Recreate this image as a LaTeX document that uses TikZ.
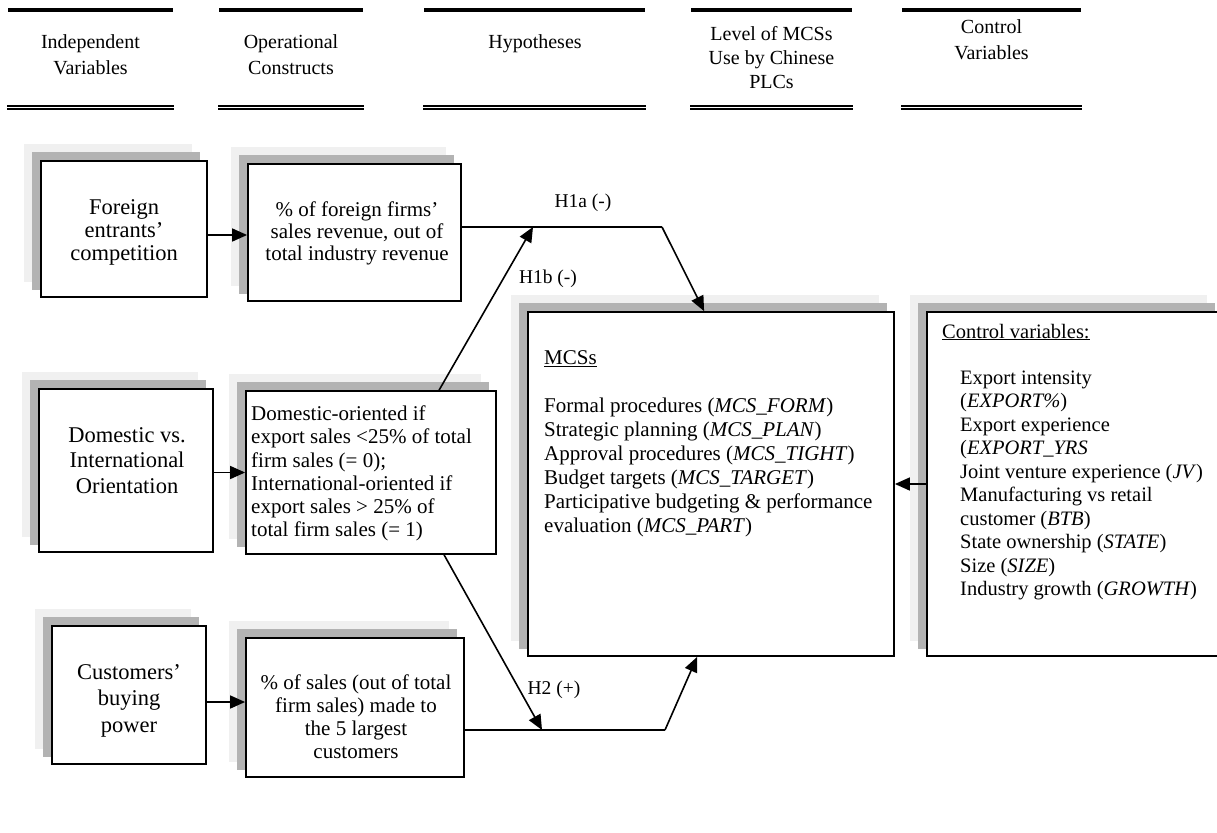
\documentclass[tikz,border=0pt]{standalone}
\usepackage{fontspec}
\setmainfont{Liberation Serif}
\usetikzlibrary{arrows.meta,backgrounds}
\definecolor{shlight}{RGB}{240,240,240}
\definecolor{shdark}{RGB}{179,179,179}
\tikzset{
  box/.style={draw=black, line width=1.8pt, fill=white, inner sep=0pt},
  conn/.style={line width=1.6pt},
  arr/.style={line width=1.6pt, -{Triangle[length=15pt,width=13pt]}},
  hdr/.style={align=center, anchor=north, inner sep=0pt, font=\fontsize{20}{26}\selectfont},
  lefttxt/.style={align=center, anchor=north, inner sep=0pt, font=\fontsize{22.5}{25.5}\selectfont},
  optxt/.style={align=center, anchor=north, inner sep=0pt, font=\fontsize{21}{22}\selectfont},
  listtxt/.style={align=left, anchor=north west, inner sep=0pt, font=\fontsize{21}{24}\selectfont},
  ctrltxt/.style={align=left, anchor=north west, inner sep=0pt, font=\fontsize{20.5}{23.5}\selectfont},
  hlabel/.style={inner sep=0pt, font=\fontsize{19.5}{22}\selectfont},
  rule/.style={line width=4pt},
  thinrule/.style={line width=1.9pt}
}
\newcommand{\shadowbox}[1]{%
  \fill[shlight] ([shift={(-16,-16)}]#1.south west) rectangle ([shift={(-16,-16)}]#1.north east);
  \fill[shdark] ([shift={(-8,-8)}]#1.south west) rectangle ([shift={(-8,-8)}]#1.north east);
}
\begin{document}
\begin{tikzpicture}[x=1pt,y=-1pt]
\useasboundingbox (0,0) rectangle (1217,832);

% header rules
\foreach \a/\b in {8/173, 219/363, 424/645, 691/852, 902/1081} {
  \draw[rule] (\a,10) -- (\b,10);
  \draw[thinrule] (\a-1,105.9) -- (\b+1,105.9);
  \draw[thinrule] (\a-1,109.4) -- (\b+1,109.4);
}

% header texts
\node[hdr] (h1) at (90.5,34) {Independent\\Variables};
\node[hdr] (h2) at (291,34) {Operational\\Constructs};
\node[hdr] (h3) at (535,34) {Hypotheses};
\node[hdr, font=\fontsize{20}{24}\selectfont] (h4) at (771.5,26) {Level of MCSs\\Use by Chinese\\PLCs};
\node[hdr, font=\fontsize{20}{26}\selectfont] (h5) at (991.5,19) {Control\\Variables};

% boxes
\node[box, minimum width=166pt, minimum height=136pt] (foreign) at (124,229) {};
\node[box, minimum width=213pt, minimum height=137pt] (op1) at (354.5,232.5) {};
\node[box, minimum width=174pt, minimum height=163pt] (dom) at (126,470.5) {};
\node[box, minimum width=250pt, minimum height=163pt] (op2) at (371,472.5) {};
\node[box, minimum width=154pt, minimum height=138pt] (cust) at (129,695) {};
\node[box, minimum width=218pt, minimum height=139pt] (op3) at (355,707.5) {};
\node[box, minimum width=366pt, minimum height=344pt] (mcs) at (711,484) {};
\node[box, minimum width=295pt, minimum height=344pt] (ctrl) at (1074.5,484) {};

\begin{pgfonlayer}{background}
  \shadowbox{foreign}
  \shadowbox{op1}
  \shadowbox{dom}
  \shadowbox{op2}
  \shadowbox{cust}
  \shadowbox{op3}
  \shadowbox{mcs}
  \shadowbox{ctrl}
\end{pgfonlayer}

% box texts
\node[lefttxt, font=\fontsize{22.5}{23}\selectfont] (foreign-t) at (124,199) {Foreign\\entrants'\\competition};
\node[optxt] (op1-t) at (357,201.5) {\% of foreign firms'\\sales revenue, out of\\total industry revenue};
\node[lefttxt] (dom-t) at (127,427) {Domestic vs.\\International\\Orientation};
\node[listtxt, font=\fontsize{21}{23.3}\selectfont] (op2-t) at (251,405.5) {Domestic-oriented if\\export sales {<}25\% of total\\firm sales (= 0);\\International-oriented if\\export sales {>} 25\% of\\total firm sales (= 1)};
\node[lefttxt, font=\fontsize{22.5}{26.5}\selectfont] (cust-t) at (129,664) {Customers'\\buying\\power};
\node[optxt, font=\fontsize{21}{23}\selectfont] (op3-t) at (356,674.5) {\% of sales (out of total\\firm sales) made to\\the 5 largest\\customers};
\node[listtxt] (mcs-t) at (544,350) {\underline{MCSs}\\[24pt]
Formal procedures (\textit{MCS\_FORM})\\
Strategic planning (\textit{MCS\_PLAN})\\
Approval procedures (\textit{MCS\_TIGHT})\\
Budget targets (\textit{MCS\_TARGET})\\
Participative budgeting \& performance\\
evaluation (\textit{MCS\_PART})};
\node[inner sep=0pt, anchor=base west, font=\fontsize{20.5}{23.5}\selectfont] (ctrl-title) at (942,338) {\underline{Control variables:}};
\node[ctrltxt] (ctrl-t) at (960,370.5) {Export intensity\\
(\textit{EXPORT\%})\\
Export experience\\
(\textit{EXPORT\_YRS}\\
Joint venture experience (\textit{JV})\\
Manufacturing vs retail\\
customer (\textit{BTB})\\
State ownership (\textit{STATE})\\
Size (\textit{SIZE})\\
Industry growth (\textit{GROWTH})};

% connectors: independent -> constructs
\path ([shift={(0,6)}]foreign.east) coordinate (a1);
\draw[arr] (a1) -- (a1 -| op1.west);
\path (dom.east |- op2.west) coordinate (a2);
\draw[arr] (a2) -- (op2.west);
\path ([shift={(0,7)}]cust.east) coordinate (a3);
\draw[arr] (a3) -- (a3 -| op3.west);

% H1a
\coordinate (k1) at (662,227);
\coordinate (j1) at (533,227);
\draw[conn] (op1.east |- k1) -- (k1);
\draw[arr] (k1) -- ([xshift=177pt]mcs.north west);
\node[hlabel] (h1a) at (583,203) {H1a (-)};

% H1b
\draw[arr] ([xshift=194pt]op2.north west) -- (j1);
\node[hlabel] (h1b) at (548,279) {H1b (-)};

% H2
\coordinate (k2) at (665,730);
\coordinate (j2) at (542,730);
\draw[conn] (op3.east |- k2) -- (k2);
\draw[arr] (k2) -- ([xshift=170pt]mcs.south west);
\draw[arr] ([xshift=199pt]op2.south west) -- (j2);
\node[hlabel] (h2) at (554,690) {H2 (+)};

% control -> MCS
\draw[arr] (ctrl.west) -- (ctrl.west -| mcs.east);
\end{tikzpicture}
\end{document}
